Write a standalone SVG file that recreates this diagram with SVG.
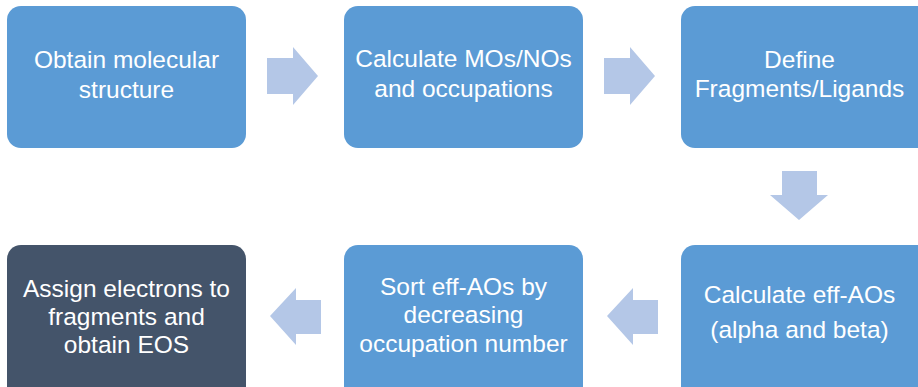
<svg xmlns="http://www.w3.org/2000/svg" width="918" height="387" viewBox="0 0 918 387">
<style>
.box{fill:#5B9BD5;}
.dark{fill:#44546A;}
.arr{fill:#B4C7E7;}
text{font-family:"Liberation Sans","Open Sans",sans-serif;font-size:24.5px;fill:#FFFFFF;text-anchor:middle;}
</style>
<rect width="918" height="387" fill="#FFFFFF"/>
<g id="node1">
<rect class="box" x="7" y="6" width="239" height="142" rx="14"/>
<text x="126.5" y="68">Obtain molecular</text>
<text x="126.5" y="98">structure</text>
</g>
<g id="node2">
<rect class="box" x="344" y="6" width="239" height="142" rx="14"/>
<text x="463.5" y="67">Calculate MOs/NOs</text>
<text x="463.5" y="97">and occupations</text>
</g>
<g id="node3">
<rect class="box" x="681" y="6" width="252" height="142" rx="14"/>
<text x="799.5" y="68">Define</text>
<text x="799.5" y="97">Fragments/Ligands</text>
</g>
<g id="node4">
<rect class="box" x="681" y="245" width="252" height="156" rx="14"/>
<text x="799.5" y="303">Calculate eff-AOs</text>
<text x="799.5" y="338">(alpha and beta)</text>
</g>
<g id="node5">
<rect class="box" x="344" y="245" width="239" height="156" rx="14"/>
<text x="463.5" y="295">Sort eff-AOs by</text>
<text x="463.5" y="323">decreasing</text>
<text x="463.5" y="352">occupation number</text>
</g>
<g id="node6">
<rect class="dark" x="7" y="245" width="239" height="156" rx="14"/>
<text x="126.5" y="297">Assign electrons to</text>
<text x="126.5" y="325">fragments and</text>
<text x="126.5" y="353">obtain EOS</text>
</g>
<g id="connectors">
<polygon class="arr" points="267,58 293,58 293,47 318,76 293,105 293,94 267,94"/>
<polygon class="arr" points="604,58 630,58 630,47 655,76 630,105 630,94 604,94"/>
<polygon class="arr" points="782,171 817,171 817,195 828,195 799,220 770,195 782,195"/>
<polygon class="arr" points="658,300 633,300 633,288 607,316 633,345 633,334 658,334"/>
<polygon class="arr" points="321,300 296,300 296,288 270,316 296,345 296,334 321,334"/>
</g>
</svg>
